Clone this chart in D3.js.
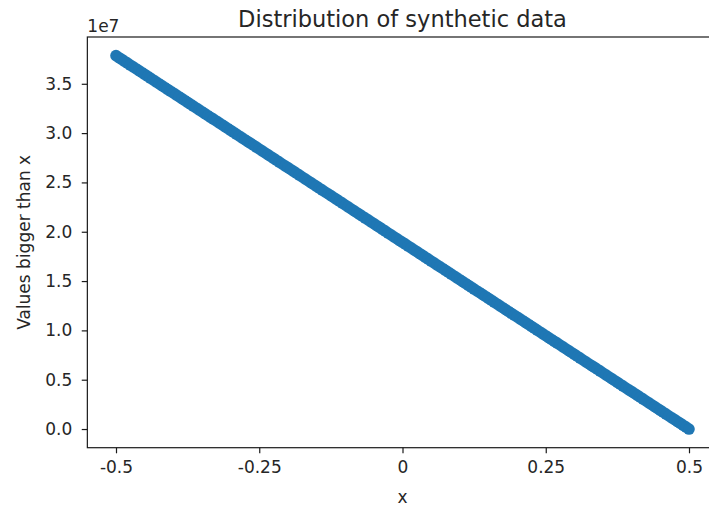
<!DOCTYPE html>
<html>
<head>
<meta charset="utf-8">
<script src="https://cdn.jsdelivr.net/npm/d3@7"></script>
<style>
  html, body { margin: 0; padding: 0; background: #fff; }
  svg { display: block; }
  text { font-family: "DejaVu Sans", sans-serif; fill: #262626; }
</style>
</head>
<body>
<svg id="chart" width="709" height="507"></svg>
<script>
// Threshold x and count of samples greater than x (in units of 1e7)
const xValues = [
  -0.500, -0.495, -0.490, -0.485, -0.480, -0.475, -0.470, -0.465, -0.460, -0.455,
  -0.450, -0.445, -0.440, -0.435, -0.430, -0.425, -0.420, -0.415, -0.410, -0.405,
  -0.400, -0.395, -0.390, -0.385, -0.380, -0.375, -0.370, -0.365, -0.360, -0.355,
  -0.350, -0.345, -0.340, -0.335, -0.330, -0.325, -0.320, -0.315, -0.310, -0.305,
  -0.300, -0.295, -0.290, -0.285, -0.280, -0.275, -0.270, -0.265, -0.260, -0.255,
  -0.250, -0.245, -0.240, -0.235, -0.230, -0.225, -0.220, -0.215, -0.210, -0.205,
  -0.200, -0.195, -0.190, -0.185, -0.180, -0.175, -0.170, -0.165, -0.160, -0.155,
  -0.150, -0.145, -0.140, -0.135, -0.130, -0.125, -0.120, -0.115, -0.110, -0.105,
  -0.100, -0.095, -0.090, -0.085, -0.080, -0.075, -0.070, -0.065, -0.060, -0.055,
  -0.050, -0.045, -0.040, -0.035, -0.030, -0.025, -0.020, -0.015, -0.010, -0.005,
   0.000,  0.005,  0.010,  0.015,  0.020,  0.025,  0.030,  0.035,  0.040,  0.045,
   0.050,  0.055,  0.060,  0.065,  0.070,  0.075,  0.080,  0.085,  0.090,  0.095,
   0.100,  0.105,  0.110,  0.115,  0.120,  0.125,  0.130,  0.135,  0.140,  0.145,
   0.150,  0.155,  0.160,  0.165,  0.170,  0.175,  0.180,  0.185,  0.190,  0.195,
   0.200,  0.205,  0.210,  0.215,  0.220,  0.225,  0.230,  0.235,  0.240,  0.245,
   0.250,  0.255,  0.260,  0.265,  0.270,  0.275,  0.280,  0.285,  0.290,  0.295,
   0.300,  0.305,  0.310,  0.315,  0.320,  0.325,  0.330,  0.335,  0.340,  0.345,
   0.350,  0.355,  0.360,  0.365,  0.370,  0.375,  0.380,  0.385,  0.390,  0.395,
   0.400,  0.405,  0.410,  0.415,  0.420,  0.425,  0.430,  0.435,  0.440,  0.445,
   0.450,  0.455,  0.460,  0.465,  0.470,  0.475,  0.480,  0.485,  0.490,  0.495,
   0.500
];
const countsE7 = [
  3.785, 3.766, 3.747, 3.728, 3.709, 3.690, 3.671, 3.653, 3.634, 3.615,
  3.596, 3.577, 3.558, 3.539, 3.520, 3.501, 3.482, 3.463, 3.444, 3.425,
  3.407, 3.388, 3.369, 3.350, 3.331, 3.312, 3.293, 3.274, 3.255, 3.236,
  3.217, 3.198, 3.179, 3.160, 3.142, 3.123, 3.104, 3.085, 3.066, 3.047,
  3.028, 3.009, 2.990, 2.971, 2.952, 2.933, 2.914, 2.896, 2.877, 2.858,
  2.839, 2.820, 2.801, 2.782, 2.763, 2.744, 2.725, 2.706, 2.687, 2.668,
  2.650, 2.631, 2.612, 2.593, 2.574, 2.555, 2.536, 2.517, 2.498, 2.479,
  2.460, 2.441, 2.422, 2.403, 2.385, 2.366, 2.347, 2.328, 2.309, 2.290,
  2.271, 2.252, 2.233, 2.214, 2.195, 2.176, 2.157, 2.139, 2.120, 2.101,
  2.082, 2.063, 2.044, 2.025, 2.006, 1.987, 1.968, 1.949, 1.930, 1.911,
  1.893, 1.874, 1.855, 1.836, 1.817, 1.798, 1.779, 1.760, 1.741, 1.722,
  1.703, 1.684, 1.665, 1.646, 1.628, 1.609, 1.590, 1.571, 1.552, 1.533,
  1.514, 1.495, 1.476, 1.457, 1.438, 1.419, 1.400, 1.382, 1.363, 1.344,
  1.325, 1.306, 1.287, 1.268, 1.249, 1.230, 1.211, 1.192, 1.173, 1.154,
  1.136, 1.117, 1.098, 1.079, 1.060, 1.041, 1.022, 1.003, 0.984, 0.965,
  0.946, 0.927, 0.908, 0.889, 0.871, 0.852, 0.833, 0.814, 0.795, 0.776,
  0.757, 0.738, 0.719, 0.700, 0.681, 0.662, 0.643, 0.625, 0.606, 0.587,
  0.568, 0.549, 0.530, 0.511, 0.492, 0.473, 0.454, 0.435, 0.416, 0.397,
  0.379, 0.360, 0.341, 0.322, 0.303, 0.284, 0.265, 0.246, 0.227, 0.208,
  0.189, 0.170, 0.151, 0.132, 0.114, 0.095, 0.076, 0.057, 0.038, 0.019,
  0.000
];
const xTicks = [-0.5, -0.25, 0, 0.25, 0.5];
const xTickLabels = ["-0.5", "-0.25", "0", "0.25", "0.5"];
const yTicks = [0, 0.5, 1.0, 1.5, 2.0, 2.5, 3.0, 3.5];

const svg = d3.select("#chart");
const plot = { left: 87.35, right: 717.65, top: 37, bottom: 447.7 };

// Axis limits with 5% padding around the data, as in the default autoscale
const xExt = d3.extent(xValues), yExt = d3.extent(countsE7);
const xPad = (xExt[1] - xExt[0]) * 0.05, yPad = (yExt[1] - yExt[0]) * 0.05;
const x = d3.scaleLinear().domain([xExt[0] - xPad, xExt[1] + xPad]).range([plot.left, plot.right]);
const y = d3.scaleLinear().domain([yExt[0] - yPad, yExt[1] + yPad]).range([plot.bottom, plot.top]);

const points = d3.range(xValues.length).map(i => ({ x: xValues[i], v: countsE7[i] }));

// Scatter markers
svg.append("g")
  .selectAll("circle")
  .data(points)
  .join("circle")
  .attr("cx", d => x(d.x))
  .attr("cy", d => y(d.v))
  .attr("r", 5.8)
  .attr("fill", "#1f77b4");

// Frame
svg.append("rect")
  .attr("x", plot.left).attr("y", plot.top)
  .attr("width", plot.right - plot.left).attr("height", plot.bottom - plot.top)
  .attr("fill", "none").attr("stroke", "#1a1a1a").attr("stroke-width", 1.2);

// X axis
const xAxis = d3.axisBottom(x)
  .tickValues(xTicks)
  .tickFormat((d, i) => xTickLabels[i])
  .tickSize(5.6).tickPadding(7.5);
const gx = svg.append("g").attr("transform", `translate(0,${plot.bottom})`).call(xAxis);
gx.select(".domain").remove();
gx.selectAll(".tick line").attr("stroke", "#1a1a1a").attr("stroke-width", 1.2);
gx.selectAll(".tick text").attr("font-size", 17).attr("fill", "#262626")
  .attr("font-family", "DejaVu Sans");

// Y axis
const yAxis = d3.axisLeft(y)
  .tickValues(yTicks)
  .tickFormat(d3.format(".1f"))
  .tickSize(5.6).tickPadding(9.5);
const gy = svg.append("g").attr("transform", `translate(${plot.left},0)`).call(yAxis);
gy.select(".domain").remove();
gy.selectAll(".tick line").attr("stroke", "#1a1a1a").attr("stroke-width", 1.2);
gy.selectAll(".tick text").attr("font-size", 17).attr("fill", "#262626")
  .attr("font-family", "DejaVu Sans");

// Scale offset
svg.append("text").attr("x", plot.left).attr("y", 32)
  .attr("font-size", 17).text("1e7");

// Title and axis labels
svg.append("text")
  .attr("x", (plot.left + plot.right) / 2).attr("y", 27)
  .attr("text-anchor", "middle").attr("font-size", 22.5)
  .text("Distribution of synthetic data");

svg.append("text")
  .attr("x", (plot.left + plot.right) / 2).attr("y", 503)
  .attr("text-anchor", "middle").attr("font-size", 17)
  .text("x");

svg.append("text")
  .attr("transform", `translate(30,${(plot.top + plot.bottom) / 2}) rotate(-90)`)
  .attr("text-anchor", "middle").attr("font-size", 17)
  .text("Values bigger than x");
</script>
</body>
</html>
